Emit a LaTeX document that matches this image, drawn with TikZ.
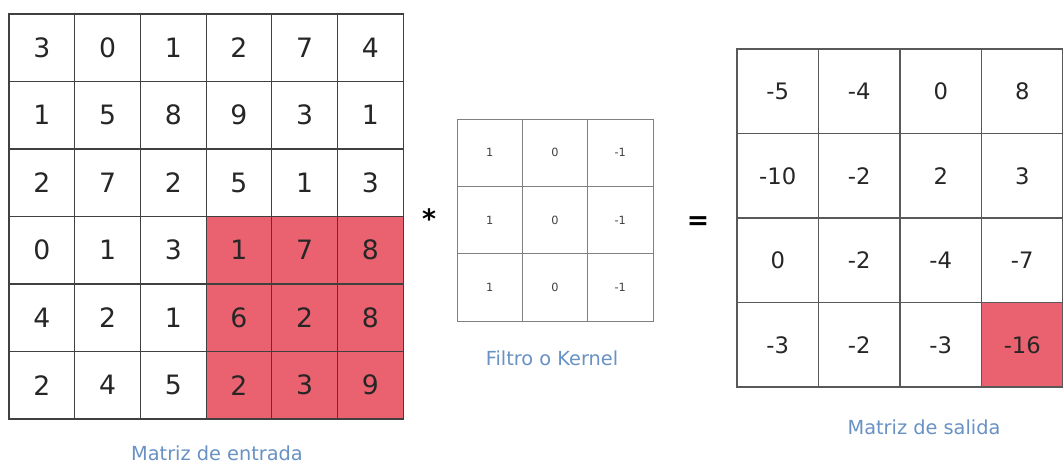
\documentclass[tikz,border=0pt]{standalone}
\usepackage{fontspec}
\setmainfont{DejaVu Sans}
\usetikzlibrary{positioning}

\definecolor{hot}{RGB}{234,98,112}
\definecolor{capblue}{RGB}{104,146,196}

\tikzset{
  incell/.style={draw=black!75, line width=0.8pt, minimum width=49.3pt, minimum height=50.6pt,
    inner sep=0pt, font=\fontsize{20}{24}\selectfont, text=black!85},
  kcell/.style={draw=black!50, line width=0.6pt, minimum width=49pt, minimum height=50.5pt,
    inner sep=0pt, font=\fontsize{8.5}{10}\selectfont, text=black!75},
  outcell/.style={draw=black!65, line width=0.8pt, minimum width=61.1pt, minimum height=63.4pt,
    inner sep=0pt, font=\fontsize{17}{20}\selectfont, text=black!85},
  caption/.style={text=capblue, font=\fontsize{14.5}{17}\selectfont},
  oper/.style={font=\bfseries\fontsize{20}{24}\selectfont, inner sep=0pt}
}

\begin{document}
\begin{tikzpicture}[x=0.75pt, y=-0.75pt]
  \useasboundingbox[fill=white] (0,0) rectangle (1063,472);

  % matriz de entrada
  \foreach \row [count=\r] in {{3,0,1,2,7,4},{1,5,8,9,3,1},{2,7,2,5,1,3},{0,1,3,1,7,8},{4,2,1,6,2,8},{2,4,5,2,3,9}} {
    \foreach \v [count=\c] in \row {
      \ifnum\r>3 \ifnum\c>3 \def\fc{hot}\else\def\fc{white}\fi\else\def\fc{white}\fi
      \node[incell, fill=\fc] (in-\r-\c) at ({9+65.7*(\c-0.5)},{14+67.5*(\r-0.5)}) {\v};
    }
  }

  % filtro
  \foreach \r in {1,2,3} {
    \foreach \v [count=\c] in {1,0,-1} {
      \node[kcell] (k-\r-\c) at ({457+65.3*(\c-0.5)},{119+67.3*(\r-0.5)}) {\v};
    }
  }

  % matriz de salida
  \foreach \row [count=\r] in {{-5,-4,0,8},{-10,-2,2,3},{0,-2,-4,-7},{-3,-2,-3,-16}} {
    \foreach \v [count=\c] in \row {
      \ifnum\r=4 \ifnum\c=4 \def\fc{hot}\else\def\fc{white}\fi\else\def\fc{white}\fi
      \node[outcell, fill=\fc] (out-\r-\c) at ({737+81.5*(\c-0.5)},{49+84.5*(\r-0.5)}) {\v};
    }
  }

  \node[oper] (times) at (429,219) {*};
  \node[oper] (equals) at (698,223) {=};

  \node[caption] (incap) at (217,453) {Matriz de entrada};
  \node[caption] (kcap) at (552,358) {Filtro o Kernel};
  \node[caption] (outcap) at (924,427) {Matriz de salida};
\end{tikzpicture}
\end{document}
